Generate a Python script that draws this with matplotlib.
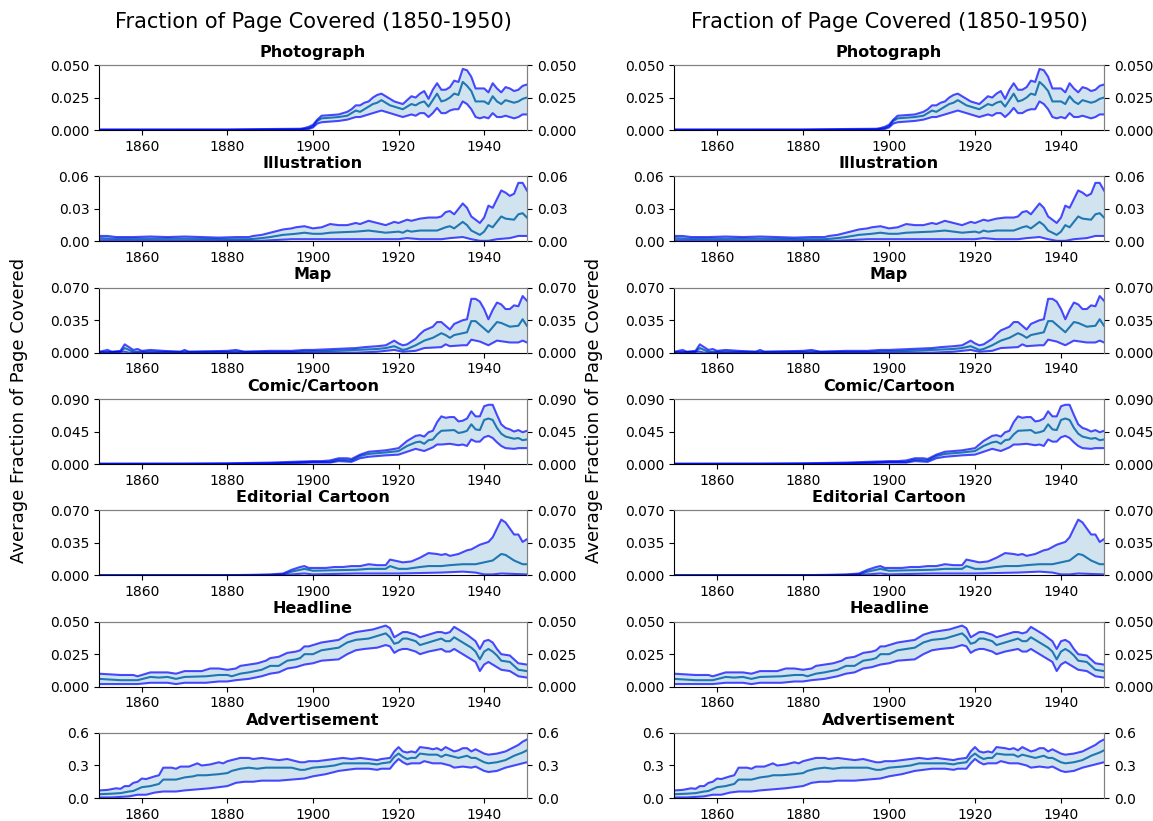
import numpy as np
import matplotlib
matplotlib.use("Agg")
import matplotlib.pyplot as plt

# (year, value) pairs
photo_hi = [(1850, .0004), (1880, .0004), (1890, .0008), (1897, .001), (1898, .0015), (1899, .0025), (1900, .004),
            (1901, .008), (1902, .011), (1904, .0115), (1906, .012), (1907, .013), (1908, .014), (1909, .016),
            (1910, .019), (1911, .019), (1912, .021), (1913, .022), (1914, .025), (1915, .027), (1916, .028),
            (1917, .026), (1918, .024), (1919, .022), (1920, .021), (1921, .020), (1922, .023), (1923, .026),
            (1924, .025), (1925, .028), (1926, .030), (1927, .024), (1928, .031), (1929, .036), (1930, .031),
            (1931, .031), (1932, .033), (1933, .038), (1934, .037), (1935, .047), (1936, .046), (1937, .041),
            (1938, .032), (1939, .032), (1940, .032), (1941, .029), (1942, .036), (1943, .032), (1944, .029),
            (1945, .033), (1946, .032), (1947, .030), (1948, .031), (1949, .034), (1950, .035)]
photo_mid = [(1850, .0002), (1880, .0002), (1890, .0004), (1897, .0005), (1899, .0015), (1900, .003), (1901, .007),
             (1902, .009), (1904, .0095), (1906, .010), (1908, .011), (1909, .013), (1910, .015), (1911, .014),
             (1912, .016), (1913, .018), (1914, .020), (1915, .021), (1916, .023), (1917, .021), (1918, .019),
             (1919, .018), (1920, .017), (1921, .016), (1922, .018), (1923, .020), (1924, .019), (1925, .021),
             (1926, .022), (1927, .018), (1928, .023), (1929, .028), (1930, .022), (1931, .023), (1932, .025),
             (1933, .028), (1934, .027), (1935, .037), (1936, .034), (1937, .030), (1938, .022), (1939, .022),
             (1940, .022), (1941, .020), (1942, .026), (1943, .022), (1944, .020), (1945, .023), (1946, .022),
             (1947, .021), (1948, .022), (1949, .024), (1950, .025)]
photo_lo = [(1850, 0), (1890, .0001), (1897, .0002), (1899, .0008), (1900, .002), (1901, .005), (1902, .006),
            (1904, .0065), (1906, .007), (1908, .008), (1909, .009), (1910, .010), (1911, .010), (1912, .011),
            (1913, .012), (1914, .013), (1915, .014), (1916, .015), (1917, .014), (1918, .013), (1919, .012),
            (1920, .011), (1921, .010), (1922, .011), (1923, .012), (1924, .011), (1925, .013), (1926, .013),
            (1927, .010), (1928, .013), (1929, .017), (1930, .013), (1931, .013), (1932, .015), (1933, .016),
            (1934, .016), (1935, .022), (1936, .020), (1937, .016), (1938, .010), (1939, .009), (1940, .010),
            (1941, .009), (1942, .013), (1943, .010), (1944, .010), (1945, .011), (1946, .010), (1947, .009),
            (1948, .010), (1949, .012), (1950, .012)]

illus_hi = [(1850, .005), (1852, .005), (1854, .004), (1858, .004), (1862, .0045), (1866, .004), (1870, .0045),
            (1874, .004), (1878, .0035), (1882, .004), (1885, .004), (1886, .005), (1888, .006), (1890, .008),
            (1892, .010), (1893, .011), (1895, .012), (1896, .013), (1898, .014), (1900, .012), (1902, .013),
            (1904, .016), (1906, .015), (1908, .015), (1910, .017), (1911, .016), (1913, .019), (1915, .017),
            (1917, .015), (1919, .018), (1920, .017), (1922, .020), (1923, .019), (1925, .021), (1927, .022),
            (1929, .022), (1930, .023), (1931, .027), (1932, .028), (1933, .025), (1935, .035), (1936, .031),
            (1937, .023), (1938, .020), (1939, .017), (1940, .022), (1941, .033), (1942, .031), (1944, .047),
            (1945, .045), (1946, .042), (1947, .044), (1948, .054), (1949, .054), (1950, .047)]
illus_mid = [(1850, .003), (1854, .0025), (1860, .0025), (1870, .0025), (1880, .002), (1885, .002), (1888, .003),
             (1890, .004), (1893, .006), (1896, .007), (1898, .008), (1900, .007), (1902, .007), (1904, .008),
             (1910, .009), (1913, .010), (1915, .009), (1917, .008), (1920, .009), (1921, .008), (1922, .010),
             (1923, .009), (1925, .010), (1929, .010), (1931, .013), (1932, .014), (1933, .012), (1935, .018),
             (1936, .015), (1937, .010), (1939, .006), (1940, .009), (1941, .015), (1942, .013), (1944, .023),
             (1945, .021), (1947, .020), (1948, .025), (1949, .026), (1950, .022)]
illus_lo = [(1850, .001), (1860, .0008), (1880, .0005), (1888, .0005), (1890, .001), (1895, .002), (1900, .002),
            (1920, .002), (1922, .003), (1925, .002), (1930, .002), (1932, .003), (1935, .004), (1937, .002),
            (1939, .0005), (1941, .0005), (1943, .002), (1946, .003), (1948, .005), (1950, .005)]

map_hi = [(1850, .001), (1852, .003), (1853, .001), (1855, .002), (1856, .009), (1857, .006), (1858, .003),
          (1859, .004), (1860, .002), (1862, .003), (1865, .002), (1869, .001), (1870, .003), (1871, .001),
          (1880, .002), (1882, .003), (1884, .001), (1890, .002), (1895, .002), (1898, .003), (1900, .003),
          (1905, .004), (1910, .005), (1912, .006), (1915, .007), (1917, .008), (1919, .013), (1920, .010),
          (1921, .008), (1922, .009), (1924, .015), (1925, .020), (1926, .024), (1928, .028), (1929, .033),
          (1930, .033), (1931, .029), (1932, .025), (1933, .031), (1934, .033), (1935, .035), (1936, .036),
          (1937, .058), (1938, .058), (1939, .055), (1940, .047), (1941, .036), (1942, .046), (1943, .054),
          (1944, .052), (1945, .047), (1946, .047), (1947, .051), (1948, .050), (1949, .061), (1950, .056)]
map_mid = [(1850, .0005), (1855, .001), (1856, .005), (1857, .003), (1858, .001), (1860, .001), (1880, .001),
           (1895, .001), (1905, .002), (1910, .003), (1915, .004), (1917, .005), (1919, .007), (1921, .003),
           (1922, .004), (1924, .008), (1926, .013), (1928, .016), (1930, .021), (1931, .019), (1932, .016),
           (1933, .019), (1935, .021), (1936, .022), (1937, .034), (1938, .034), (1939, .030), (1941, .022),
           (1943, .033), (1944, .032), (1946, .028), (1948, .029), (1949, .036), (1950, .029)]
map_lo = [(1850, 0), (1856, .001), (1857, 0), (1910, 0), (1915, .001), (1919, .003), (1921, .001), (1924, .002),
          (1926, .005), (1930, .006), (1931, .009), (1932, .007), (1935, .008), (1936, .008), (1937, .014),
          (1939, .012), (1941, .008), (1943, .013), (1946, .011), (1948, .011), (1949, .013), (1950, .011)]

comic_hi = [(1850, .0005), (1870, .0005), (1880, .001), (1890, .002), (1895, .003), (1900, .004), (1902, .004),
            (1904, .005), (1906, .008), (1908, .008), (1909, .007), (1911, .013), (1913, .017), (1915, .018),
            (1917, .019), (1919, .021), (1920, .022), (1922, .032), (1924, .039), (1925, .040), (1926, .038),
            (1927, .044), (1928, .046), (1929, .058), (1930, .066), (1931, .064), (1932, .065), (1933, .065),
            (1934, .059), (1935, .060), (1936, .063), (1937, .073), (1938, .066), (1939, .066), (1940, .080),
            (1941, .082), (1942, .082), (1943, .068), (1944, .055), (1945, .050), (1946, .048), (1947, .045),
            (1948, .047), (1949, .044), (1950, .046)]
comic_mid = [(1850, .0002), (1880, .0005), (1890, .001), (1900, .003), (1904, .003), (1906, .006), (1909, .005),
             (1911, .011), (1913, .014), (1917, .016), (1920, .018), (1922, .025), (1924, .030), (1925, .031),
             (1926, .028), (1927, .033), (1928, .034), (1929, .041), (1930, .046), (1933, .047), (1934, .043),
             (1935, .044), (1936, .046), (1937, .055), (1938, .048), (1939, .047), (1940, .061), (1941, .063),
             (1942, .061), (1943, .050), (1944, .042), (1945, .038), (1947, .035), (1948, .036), (1949, .033),
             (1950, .034)]
comic_lo = [(1850, 0), (1880, 0), (1890, .0005), (1900, .002), (1904, .002), (1906, .004), (1909, .003),
            (1911, .008), (1913, .010), (1917, .012), (1920, .013), (1922, .017), (1924, .021), (1926, .018),
            (1928, .023), (1929, .027), (1930, .027), (1932, .028), (1934, .026), (1935, .027), (1936, .025),
            (1937, .034), (1938, .031), (1939, .031), (1940, .037), (1941, .039), (1942, .036), (1943, .030),
            (1944, .025), (1945, .022), (1947, .021), (1948, .022), (1950, .022)]

edit_hi = [(1850, 0), (1880, .0002), (1885, .0005), (1890, .001), (1893, .002), (1895, .006), (1897, .009),
           (1898, .010), (1899, .008), (1901, .008), (1903, .008), (1905, .009), (1907, .009), (1909, .010),
           (1911, .010), (1913, .012), (1915, .011), (1917, .011), (1918, .017), (1919, .016), (1921, .014),
           (1923, .015), (1925, .019), (1927, .024), (1929, .023), (1930, .022), (1931, .023), (1932, .021),
           (1934, .023), (1936, .027), (1937, .028), (1939, .033), (1941, .036), (1942, .041), (1944, .060),
           (1945, .057), (1947, .044), (1948, .044), (1949, .036), (1950, .039)]
edit_mid = [(1850, 0), (1885, .0002), (1890, .0005), (1893, .001), (1895, .004), (1898, .007), (1900, .005),
            (1910, .006), (1913, .007), (1917, .007), (1918, .010), (1920, .007), (1922, .007), (1925, .009),
            (1927, .010), (1930, .010), (1932, .011), (1935, .012), (1938, .012), (1940, .014), (1942, .016),
            (1944, .023), (1945, .022), (1947, .016), (1949, .012), (1950, .012)]
edit_lo = [(1850, 0), (1890, 0), (1895, .001), (1898, .002), (1900, .001), (1910, .002), (1920, .002),
           (1930, .003), (1935, .004), (1938, .003), (1940, .001), (1942, .001), (1944, .002), (1950, .001)]

head_hi = [(1850, .010), (1855, .009), (1858, .009), (1859, .008), (1860, .009), (1862, .011), (1864, .011),
           (1866, .011), (1868, .010), (1870, .012), (1872, .012), (1874, .012), (1876, .014), (1878, .014),
           (1880, .013), (1882, .014), (1883, .016), (1885, .017), (1887, .018), (1889, .020), (1890, .022),
           (1892, .023), (1894, .026), (1896, .027), (1897, .028), (1898, .031), (1899, .031), (1900, .032),
           (1902, .034), (1904, .035), (1906, .036), (1908, .040), (1910, .042), (1912, .043), (1914, .044),
           (1916, .046), (1917, .047), (1918, .045), (1919, .038), (1920, .040), (1921, .042), (1922, .042),
           (1924, .040), (1925, .038), (1927, .040), (1929, .042), (1930, .042), (1931, .041), (1932, .042),
           (1933, .046), (1934, .044), (1936, .040), (1938, .035), (1939, .029), (1940, .035), (1941, .036),
           (1942, .034), (1943, .029), (1944, .025), (1946, .024), (1947, .021), (1948, .018), (1950, .017)]
head_mid = [(1850, .006), (1855, .005), (1859, .005), (1862, .0075), (1864, .007), (1866, .0075), (1868, .006),
            (1870, .0075), (1875, .008), (1878, .009), (1880, .009), (1881, .008), (1883, .010), (1885, .011),
            (1888, .013), (1890, .016), (1892, .016), (1894, .020), (1896, .021), (1897, .022), (1898, .025),
            (1900, .025), (1902, .028), (1904, .029), (1906, .030), (1908, .034), (1910, .036), (1913, .037),
            (1915, .039), (1917, .041), (1918, .038), (1919, .033), (1920, .034), (1921, .037), (1922, .037),
            (1924, .035), (1925, .032), (1927, .034), (1930, .037), (1931, .035), (1932, .035), (1933, .038),
            (1934, .036), (1936, .032), (1937, .030), (1938, .027), (1939, .021), (1940, .027), (1941, .029),
            (1942, .027), (1943, .024), (1944, .020), (1946, .019), (1947, .016), (1948, .013), (1950, .012)]
head_lo = [(1850, .002), (1855, .002), (1859, .002), (1862, .003), (1866, .003), (1868, .002), (1870, .003),
           (1875, .003), (1878, .004), (1880, .004), (1882, .005), (1885, .006), (1888, .008), (1890, .010),
           (1892, .011), (1894, .014), (1896, .015), (1898, .017), (1900, .018), (1902, .020), (1906, .021),
           (1908, .025), (1910, .028), (1912, .029), (1915, .030), (1917, .032), (1918, .031), (1919, .026),
           (1920, .028), (1921, .029), (1922, .029), (1924, .027), (1925, .025), (1927, .027), (1930, .029),
           (1931, .027), (1932, .027), (1933, .029), (1934, .027), (1936, .023), (1937, .021), (1938, .019),
           (1939, .012), (1940, .017), (1941, .019), (1942, .017), (1944, .013), (1946, .012), (1947, .010),
           (1948, .008), (1950, .007)]

ad_hi = [(1850, .07), (1852, .075), (1854, .09), (1855, .085), (1856, .11), (1857, .11), (1858, .14), (1859, .15),
         (1860, .18), (1861, .175), (1863, .20), (1864, .21), (1865, .28), (1867, .28), (1868, .27), (1869, .29),
         (1871, .29), (1873, .32), (1874, .30), (1876, .31), (1878, .33), (1879, .32), (1880, .34), (1881, .35),
         (1882, .36), (1883, .37), (1885, .37), (1886, .36), (1888, .37), (1890, .36), (1892, .35), (1894, .36),
         (1896, .34), (1897, .33), (1898, .33), (1899, .34), (1901, .34), (1903, .35), (1905, .36), (1907, .37),
         (1909, .36), (1911, .37), (1913, .36), (1915, .35), (1916, .36), (1918, .37), (1919, .43), (1920, .47),
         (1921, .43), (1922, .42), (1923, .43), (1924, .42), (1925, .47), (1927, .46), (1928, .45), (1929, .46),
         (1930, .44), (1931, .47), (1932, .45), (1933, .43), (1934, .44), (1935, .46), (1936, .46), (1937, .43),
         (1938, .45), (1939, .43), (1940, .41), (1941, .40), (1943, .41), (1945, .43), (1946, .45), (1947, .47),
         (1948, .49), (1949, .52), (1950, .54)]
ad_mid = [(1850, .035), (1853, .04), (1855, .045), (1857, .06), (1858, .065), (1860, .10), (1862, .11), (1864, .13),
          (1865, .17), (1868, .17), (1870, .19), (1872, .20), (1873, .21), (1875, .21), (1878, .22), (1880, .23),
          (1881, .25), (1883, .27), (1885, .28), (1887, .27), (1889, .28), (1892, .28), (1895, .28), (1897, .26),
          (1898, .26), (1900, .28), (1903, .29), (1905, .30), (1907, .32), (1910, .32), (1913, .32), (1915, .31),
          (1916, .32), (1918, .33), (1919, .38), (1920, .41), (1921, .38), (1922, .36), (1923, .37), (1924, .37),
          (1925, .41), (1927, .40), (1929, .40), (1930, .38), (1931, .40), (1932, .39), (1934, .37), (1936, .39),
          (1937, .37), (1938, .37), (1940, .33), (1941, .32), (1943, .33), (1945, .35), (1947, .39), (1949, .42),
          (1950, .44)]
ad_lo = [(1850, .005), (1853, .005), (1855, .01), (1857, .015), (1859, .03), (1861, .03), (1863, .05), (1865, .06),
         (1868, .06), (1870, .07), (1873, .08), (1876, .09), (1878, .10), (1880, .11), (1882, .14), (1884, .15),
         (1886, .15), (1888, .16), (1892, .16), (1895, .17), (1898, .18), (1900, .20), (1903, .22), (1906, .25),
         (1908, .26), (1910, .27), (1913, .27), (1915, .26), (1916, .27), (1918, .27), (1919, .32), (1920, .36),
         (1921, .33), (1922, .31), (1923, .32), (1925, .32), (1926, .34), (1928, .32), (1930, .32), (1931, .31),
         (1932, .30), (1933, .28), (1935, .29), (1937, .28), (1938, .29), (1940, .25), (1941, .24), (1943, .25),
         (1945, .28), (1947, .30), (1949, .32), (1950, .33)]

names = ["Photograph", "Illustration", "Map", "Comic/Cartoon", "Editorial Cartoon", "Headline", "Advertisement"]
ymax = [0.05, 0.06, 0.07, 0.09, 0.07, 0.05, 0.6]
lows = [photo_lo, illus_lo, map_lo, comic_lo, edit_lo, head_lo, ad_lo]
mids = [photo_mid, illus_mid, map_mid, comic_mid, edit_mid, head_mid, ad_mid]
highs = [photo_hi, illus_hi, map_hi, comic_hi, edit_hi, head_hi, ad_hi]

fig = plt.figure(figsize=(11.53, 8.21), dpi=100)

columns = [(0.0859, 0.457), (0.5846, 0.9575)]
for left, right in columns:
    gs = fig.add_gridspec(7, 1, left=left, right=right, top=0.9208, bottom=0.028, hspace=0.712)
    for i in range(7):
        ax = fig.add_subplot(gs[i])
        xh, yh = zip(*highs[i])
        xl, yl = zip(*lows[i])
        xm, ym = zip(*mids[i])
        ax.fill(list(xh) + list(xl[::-1]), list(yh) + list(yl[::-1]), color="C0", alpha=0.2, lw=0)
        ax.plot(xm, ym, color="C0", lw=1.5)
        ax.plot(xh, yh, color="blue", alpha=0.7, lw=1.5)
        ax.plot(xl, yl, color="blue", alpha=0.7, lw=1.5)
        ax.set_xlim(1850, 1950)
        ax.set_ylim(0, ymax[i])
        ax.set_xticks([1860, 1880, 1900, 1920, 1940])
        ax.set_yticks(np.linspace(0, ymax[i], 3))
        ax.tick_params(labelsize=10)
        ax.spines["top"].set_color("gray")
        ax.spines["right"].set_color("gray")
        ax.set_title(names[i], fontsize=11.5, fontweight="bold")
        ax2 = ax.twinx()
        ax2.set_ylim(0, ymax[i])
        ax2.set_yticks(np.linspace(0, ymax[i], 3))
        ax2.tick_params(labelsize=10)
        ax2.spines["top"].set_color("gray")
        ax2.spines["right"].set_color("gray")
        ax2.spines["left"].set_visible(False)
        ax2.spines["bottom"].set_visible(False)
    fig.text((left + right) / 2, 0.973, "Fraction of Page Covered (1850-1950)", ha="center", va="center", fontsize=15)
    fig.text(left - 0.069, 0.5, "Average Fraction of Page Covered", rotation=90, ha="center", va="center", fontsize=13)

fig.savefig("out.png", dpi=100)
